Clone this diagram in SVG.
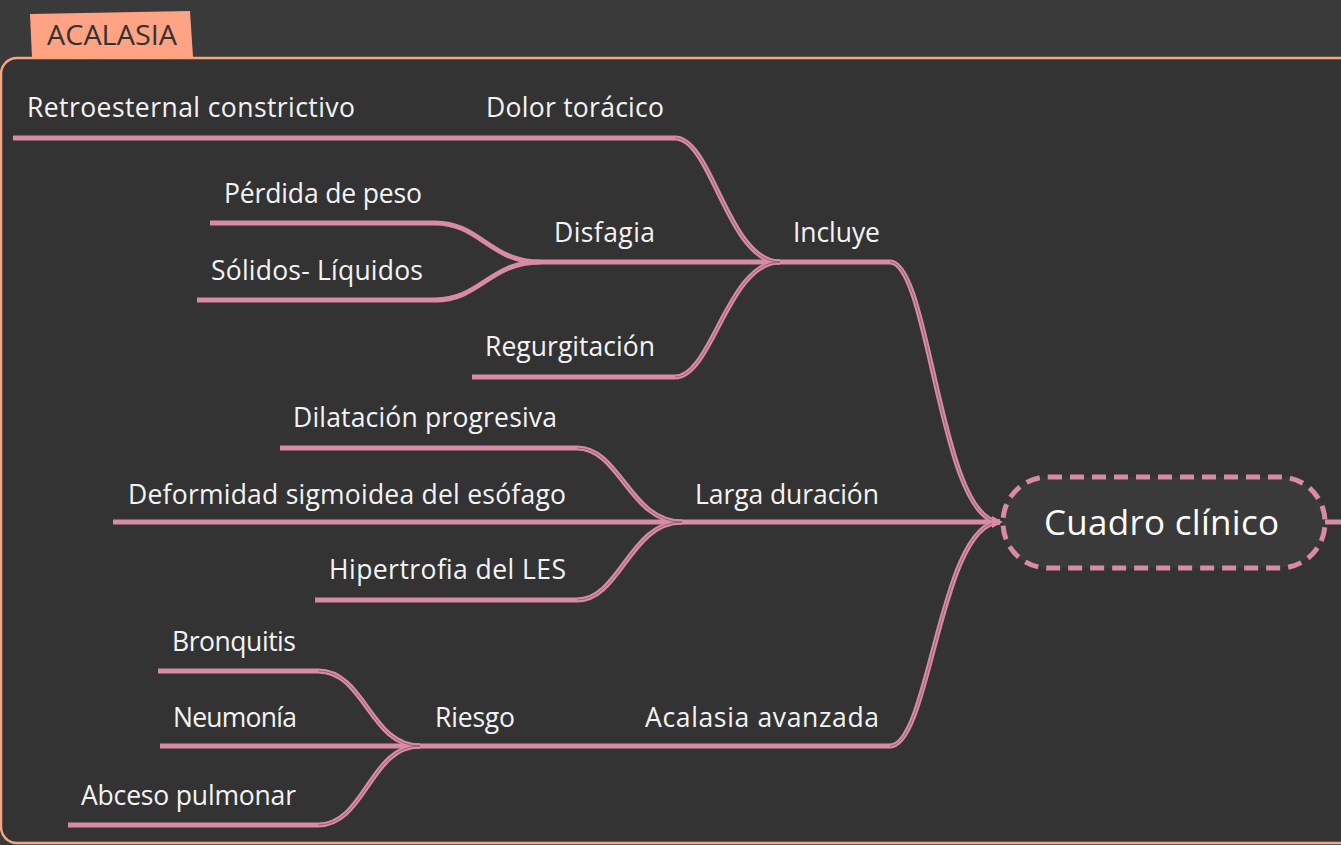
<svg xmlns="http://www.w3.org/2000/svg" width="1341" height="845" viewBox="0 0 1341 845">
<defs>
<style>
.t{font-family:"Open Sans","Liberation Sans",sans-serif;font-size:26.5px;fill:#f4f4f4}
.ln{fill:none;stroke:#d98ba6;stroke-width:5;stroke-linecap:butt}
.in{fill:none;stroke:#3a3a3a;stroke-width:0.8;opacity:0.6}
</style>
</defs>
<rect width="1341" height="845" fill="#3a3a3a"/>
<rect x="1" y="58" width="1360" height="785" rx="16" fill="#333333" stroke="#f8a583" stroke-width="2.5"/>
<g id="title">
<path d="M30,14 L190,11 L193,57 L32,58 Z" fill="#ffa384"/>
<text x="47" y="45" textLength="130" lengthAdjust="spacingAndGlyphs" style="font-family:'Open Sans','Liberation Sans',sans-serif;font-size:27px;fill:#333333">ACALASIA</text>
</g>
<g id="connectors">
<path class="ln" d="M13,138 L470,138"/>
<path class="ln" d="M470,138 L675,138"/>
<path class="ln" d="M675,138 C712,138 728,262 780,262"/>
<path class="ln" d="M210,223 L435,223"/>
<path class="ln" d="M197,300 L435,300"/>
<path class="ln" d="M435,223 C480,223 490,262 540,262"/>
<path class="ln" d="M435,300 C480,300 490,262 540,262"/>
<path class="ln" d="M540,262 L675,262"/>
<path class="ln" d="M675,262 L780,262"/>
<path class="ln" d="M472,377 L675,377"/>
<path class="ln" d="M675,377 C712,377 728,262 780,262"/>
<path class="ln" d="M780,262 L890,262"/>
<path class="ln" d="M890,262 C930,262 940,522 1000,522"/>
<path class="ln" d="M280,448 L577,448"/>
<path class="ln" d="M113,522 L577,522"/>
<path class="ln" d="M315,600 L577,600"/>
<path class="ln" d="M577,448 C620,448 630,522 682,522"/>
<path class="ln" d="M577,522 L682,522"/>
<path class="ln" d="M577,600 C620,600 630,522 682,522"/>
<path class="ln" d="M682,522 L890,522"/>
<path class="ln" d="M890,522 L1000,522"/>
<path class="ln" d="M158,671 L318,671"/>
<path class="ln" d="M160,746 L318,746"/>
<path class="ln" d="M68,825 L318,825"/>
<path class="ln" d="M318,671 C365,671 370,746 420,746"/>
<path class="ln" d="M318,746 L420,746"/>
<path class="ln" d="M318,825 C365,825 370,746 420,746"/>
<path class="ln" d="M420,746 L630,746"/>
<path class="ln" d="M630,746 L890,746"/>
<path class="ln" d="M890,746 C930,746 940,522 1000,522"/>
<path class="ln" d="M1325,522 L1341,522"/>
<path class="in" d="M675,138 C712,138 728,262 780,262 M890,262 C930,262 940,522 1000,522 M890,746 C930,746 940,522 1000,522 M577,448 C620,448 630,522 682,522 M577,600 C620,600 630,522 682,522 M318,671 C365,671 370,746 420,746 M318,825 C365,825 370,746 420,746 M675,377 C712,377 728,262 780,262"/>
</g>
<g id="n-retro"><text class="t" x="27" y="117" textLength="328">Retroesternal constrictivo</text></g>
<g id="n-dolor"><text class="t" x="486" y="117" textLength="178">Dolor torácico</text></g>
<g id="n-incluye"><text class="t" x="793" y="242" textLength="87">Incluye</text></g>
<g id="n-perdida"><text class="t" x="224" y="203" textLength="198">Pérdida de peso</text></g>
<g id="n-solidos"><text class="t" x="211" y="280" textLength="212">Sólidos- Líquidos</text></g>
<g id="n-disfagia"><text class="t" x="554" y="242" textLength="101">Disfagia</text></g>
<g id="n-regurg"><text class="t" x="485" y="356" textLength="170">Regurgitación</text></g>
<g id="n-dilat"><text class="t" x="293" y="427" textLength="264">Dilatación progresiva</text></g>
<g id="n-deform"><text class="t" x="128" y="504" textLength="438">Deformidad sigmoidea del esófago</text></g>
<g id="n-hipert"><text class="t" x="329" y="579" textLength="237">Hipertrofia del LES</text></g>
<g id="n-larga"><text class="t" x="695" y="504" textLength="184">Larga duración</text></g>
<g id="n-bronq"><text class="t" x="172" y="651" textLength="124">Bronquitis</text></g>
<g id="n-neumo"><text class="t" x="173" y="727" textLength="124">Neumonía</text></g>
<g id="n-abceso"><text class="t" x="81" y="805" textLength="215">Abceso pulmonar</text></g>
<g id="n-riesgo"><text class="t" x="435" y="727" textLength="80">Riesgo</text></g>
<g id="n-avanz"><text class="t" x="645" y="727" textLength="234">Acalasia avanzada</text></g>
<g id="n-cuadro">
<rect x="1003" y="477" width="322" height="91" rx="45" fill="#3a3a3a" stroke="#d98ba6" stroke-width="5" stroke-dasharray="14,8"/>
<path d="M992,516 L1003,522 L992,528 Z" fill="#d98ba6"/>
<text x="1044" y="535" textLength="235" style="font-family:'Open Sans','Liberation Sans',sans-serif;font-size:35px;fill:#ffffff">Cuadro clínico</text>
</g>
</svg>
